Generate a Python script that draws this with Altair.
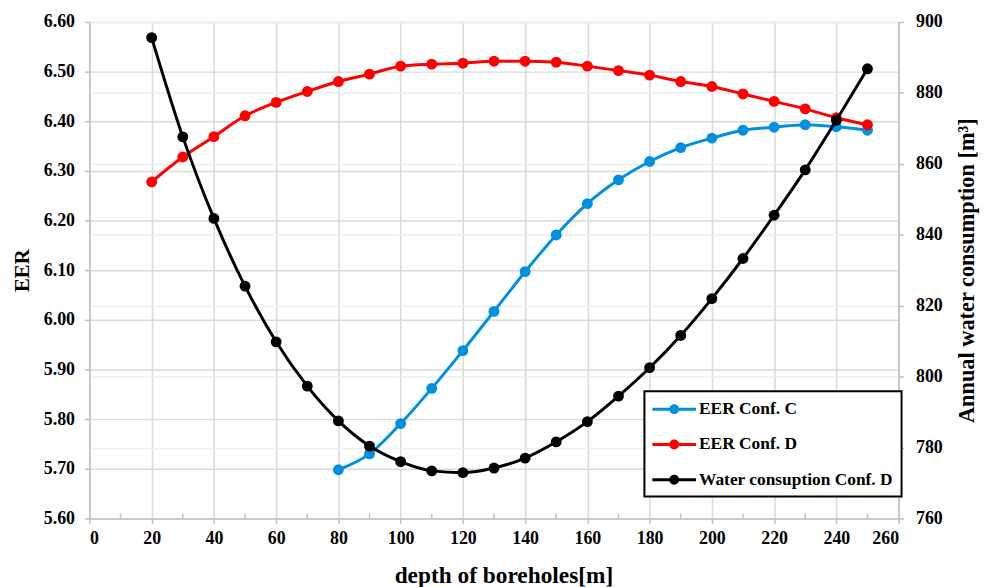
import altair as alt
import pandas as pd

FONT = "Liberation Serif"

series_names = ["EER Conf. C", "EER Conf. D", "Water consuption Conf. D"]
series_colors = ["#0090e0", "#ff0000", "#000000"]

depth_c = [80, 90, 100, 110, 120, 130, 140, 150, 160, 170, 180, 190, 200, 210, 220, 230, 240, 250]
eer_c = [5.698, 5.730, 5.791, 5.862, 5.938, 6.017, 6.097, 6.171, 6.234, 6.282,
         6.319, 6.347, 6.366, 6.382, 6.388, 6.393, 6.389, 6.382]

depth_d = [20, 30, 40, 50, 60, 70, 80, 90, 100, 110, 120, 130, 140, 150, 160, 170,
           180, 190, 200, 210, 220, 230, 240, 250]
eer_d = [6.278, 6.328, 6.369, 6.411, 6.438, 6.460, 6.480, 6.495, 6.511, 6.515, 6.517, 6.521,
         6.521, 6.519, 6.511, 6.502, 6.493, 6.480, 6.470, 6.455, 6.440, 6.425, 6.407, 6.393]
water_d = [895.6, 867.6, 844.6, 825.5, 809.8, 797.3, 787.5, 780.4, 776.0, 773.4, 772.9, 774.2,
           777.0, 781.6, 787.3, 794.5, 802.5, 811.6, 822.0, 833.3, 845.5, 858.3, 872.3, 886.8]

x_ticks = [0, 20, 40, 60, 80, 100, 120, 140, 160, 180, 200, 220, 240, 260]
x_minor_ticks = [10, 30, 50, 70, 90, 110, 130, 150, 170, 190, 210, 230, 250]
eer_ticks = [5.6, 5.7, 5.8, 5.9, 6.0, 6.1, 6.2, 6.3, 6.4, 6.5, 6.6]
water_ticks = [760, 780, 800, 820, 840, 860, 880, 900]

eer_df = pd.DataFrame({
    "depth": depth_c + depth_d,
    "eer": eer_c + eer_d,
    "series": [series_names[0]] * len(depth_c) + [series_names[1]] * len(depth_d),
})
water_df = pd.DataFrame({"depth": depth_d, "water": water_d, "series": series_names[2]})
minor_df = pd.DataFrame({"depth": x_minor_ticks})

legend = alt.Legend(
    orient="none", legendX=559, legendY=372,
    symbolType="M-1,-0.15H3.4V0.15H-1Z M0.7,0A0.5,0.5,0,1,1,1.7,0A0.5,0.5,0,1,1,0.7,0Z",
    symbolSize=400, symbolStrokeWidth=0, symbolOpacity=1,
    labelFont=FONT, labelFontSize=17.5, labelFontWeight="bold", labelColor="black",
    labelOffset=27, labelLimit=400, rowPadding=16.5, padding=8,
    strokeColor="black", fillColor="white",
)

color = alt.Color("series:N", scale=alt.Scale(domain=series_names, range=series_colors),
                  legend=legend, title=None)

x = alt.X("depth:Q", scale=alt.Scale(domain=[0, 260], nice=False),
          axis=alt.Axis(values=x_ticks, title="depth of boreholes[m]", titleFontSize=23.5,
                        titleX=417, labelPadding=6, titlePadding=17, grid=True))

y_eer = alt.Y("eer:Q", scale=alt.Scale(domain=[5.6, 6.6], nice=False, zero=False),
              axis=alt.Axis(values=eer_ticks, format=".2f", title="EER", titleFontSize=21,
                            labelPadding=10, titlePadding=11, grid=True))

y_water = alt.Y("water:Q", scale=alt.Scale(domain=[760, 900], nice=False, zero=False),
                axis=alt.Axis(orient="right", values=water_ticks, format="d",
                              title="Annual water consumption [m³]", titleFontSize=22.5,
                              titleAngle=270, titleBaseline="top",
                              labelPadding=12, titlePadding=13,
                              grid=True, gridColor="#eeeeee"))

# invisible first layer so the shared legend takes filled symbols
eer_ghost = alt.Chart(eer_df).mark_point(filled=True, size=120, opacity=0).encode(
    x=x, y=y_eer, color=color)
eer_lines = alt.Chart(eer_df).mark_line(interpolate="monotone", strokeWidth=3).encode(
    x=x, y=y_eer, color=color)
eer_points = alt.Chart(eer_df).mark_point(filled=True, size=120, opacity=1).encode(
    x=x, y=y_eer, color=color)

water_lines = alt.Chart(water_df).mark_line(interpolate="monotone", strokeWidth=3).encode(
    x=x, y=y_water, color=color)
water_points = alt.Chart(water_df).mark_point(filled=True, size=120, opacity=1).encode(
    x=x, y=y_water, color=color)

minor = alt.Chart(minor_df).mark_rule(color="#bfbfbf", strokeWidth=1.5).encode(
    x=x, y=alt.value(500), y2=alt.value(495))

left = alt.layer(eer_ghost, eer_lines, eer_points)
right = alt.layer(water_lines, water_points)

chart = alt.layer(left, right, minor).resolve_scale(y="independent").properties(
    width=815, height=500,
    padding={"left": 82, "top": 12, "right": 82, "bottom": 67},
    autosize=alt.AutoSizeParams(type="none"),
).configure_view(strokeWidth=0).configure_axis(
    labelFont=FONT, labelFontSize=18, labelFontWeight="bold", labelColor="black",
    titleFont=FONT, titleFontWeight="bold", titleColor="black",
    domainColor="#bfbfbf", domainWidth=1.5, tickColor="#bfbfbf", tickWidth=1.5, tickSize=5,
    gridColor="#d9d9d9", gridWidth=1.5,
).configure_legend(strokeWidth=2)

chart.save("out.html", embed_options={"renderer": "svg", "actions": False})
